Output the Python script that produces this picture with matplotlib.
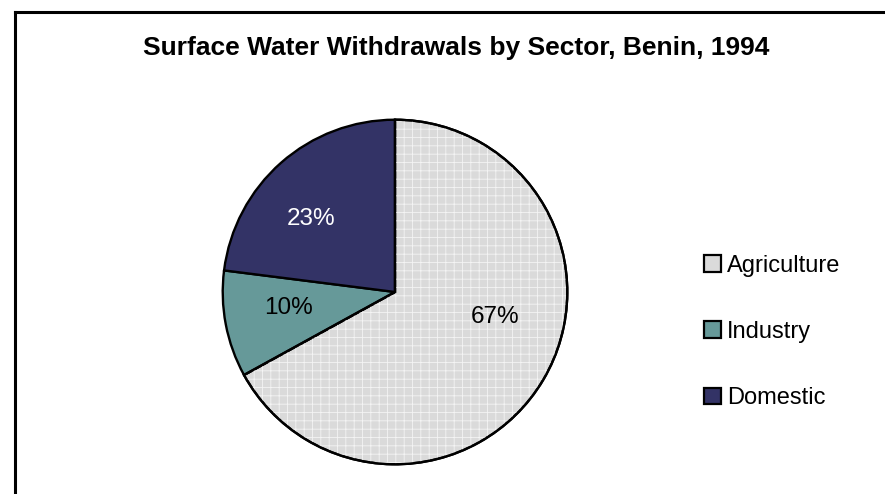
import numpy as np
import matplotlib
matplotlib.use("Agg")
import matplotlib.pyplot as plt
from matplotlib.patches import Wedge

# Benin 1994, surface water withdrawals by sector
sectors = ["Agriculture", "Industry", "Domestic"]
shares = [67, 10, 23]
colors = ["#dadada", "#669999", "#333366"]
label_colors = ["#000000", "#000000", "#ffffff"]
title = "Surface Water Withdrawals by Sector, Benin, 1994"

plt.rcParams["font.family"] = ["Liberation Sans", "DejaVu Sans"]
plt.rcParams["hatch.linewidth"] = 0.6

W, H = 885, 494
fig = plt.figure(figsize=(W / 100, H / 100), dpi=100)

# frame (right and bottom edges run off the canvas in the original)
fig.add_artist(plt.Line2D([14.5 / W, 1.0], [1 - 12.5 / H] * 2, color="black", lw=2.2))
fig.add_artist(plt.Line2D([14.5 / W] * 2, [0.0, 1 - 12.5 / H], color="black", lw=2.2))

fig.text(456 / W, 1 - 55 / H, title, ha="center", va="baseline",
         fontsize=19, fontweight="bold")

cx, cy, r = 395, 292, 174
ax = fig.add_axes([(cx - r) / W, (H - cy - r) / H, 2 * r / W, 2 * r / H])
wedges, texts, autotexts = ax.pie(
    shares, colors=colors, startangle=90, counterclock=False,
    autopct="%d%%", pctdistance=0.63,
    wedgeprops=dict(edgecolor="black", linewidth=1.7, zorder=1),
    textprops=dict(fontsize=17.5))
ax.set_xlim(-1.01, 1.01)
ax.set_ylim(-1.01, 1.01)
ax.set_aspect("equal")
ax.axis("off")

# light checker texture on the agriculture slice (white hatch overlay)
w0 = wedges[0]
ax.add_patch(Wedge(w0.center, w0.r, w0.theta1, w0.theta2, facecolor="none",
                   edgecolor="#f4f4f4", hatch="++", lw=0, zorder=1.5))
ax.add_patch(Wedge(w0.center, w0.r, w0.theta1, w0.theta2, facecolor="none",
                   edgecolor="black", lw=1.7, zorder=1.6))

# Excel's label placement
label_pos = [(0.58, -0.144), (-0.62, -0.092), (-0.49, 0.425)]
for t, c, p in zip(autotexts, label_colors, label_pos):
    t.set_color(c)
    t.set_position(p)
    t.set_zorder(3)

leg = fig.legend(wedges, sectors, loc="upper left",
                 bbox_to_anchor=(704 / W, 1 - 255 / H), frameon=False,
                 fontsize=17, handlelength=0.72, handleheight=0.72,
                 handletextpad=0.25, labelspacing=1.87, borderpad=0,
                 borderaxespad=0)
for h in leg.legend_handles:
    h.set_linewidth(1.6)

fig.savefig("out.png", dpi=100)
